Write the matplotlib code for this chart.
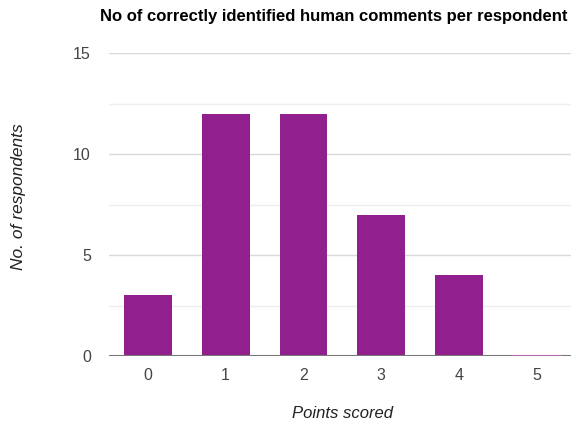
import matplotlib
matplotlib.use("Agg")
import matplotlib.pyplot as plt
from matplotlib.ticker import MultipleLocator

categories = ["0", "1", "2", "3", "4", "5"]
values = [3, 12, 12, 7, 4, 0]
title = "No of correctly identified human comments per respondent"
xlabel = "Points scored"
ylabel = "No. of respondents"

plt.rcParams['font.family'] = ['Liberation Sans', 'DejaVu Sans']
fig = plt.figure(figsize=(5.71, 4.25), dpi=100)
L = 109
ax = fig.add_axes([L/571, 1-356/425, 1-L/571, (356-53)/425])

x = list(range(len(categories)))
bw = 0.613
ax.bar(x, values, width=bw, color="#921F8E", zorder=3)
# zero-height bar shown as thin line
for xi, v in zip(x, values):
    if v == 0:
        ax.plot([xi-bw/2, xi+bw/2], [0.02, 0.02], color="#B070B0", lw=1.5, zorder=6)

ax.set_xlim(-0.5, 5.44)
ax.set_ylim(0, 15)
ax.set_xticks(x)
ax.set_xticklabels(categories)
ax.yaxis.set_major_locator(MultipleLocator(5))
ax.yaxis.set_minor_locator(MultipleLocator(2.5))
ax.grid(axis='y', which='major', color="#D9D9D9", lw=1, zorder=0)
ax.grid(axis='y', which='minor', color="#EEEEEE", lw=1, zorder=0)
ax.axhline(0, color="#777777", lw=1.5, zorder=5)
for s in ax.spines.values():
    s.set_visible(False)
ax.tick_params(axis='both', which='both', length=0, labelsize=11.5, labelcolor="#444444")
ax.tick_params(axis='y', pad=13)
ax.tick_params(axis='x', pad=9)

fig.text(100/571, 1-17/425, title, fontsize=12, fontweight='bold', ha='left', va='center', color="#000000")
fig.text(342/571, 1-413/425, xlabel, fontsize=12, style='italic', ha='center', va='center', color="#222222")
fig.text(19/571, 1-197/425, ylabel, fontsize=12.5, style='italic', ha='center', va='center', rotation=90, color="#222222")

fig.savefig("out.png", dpi=100)
